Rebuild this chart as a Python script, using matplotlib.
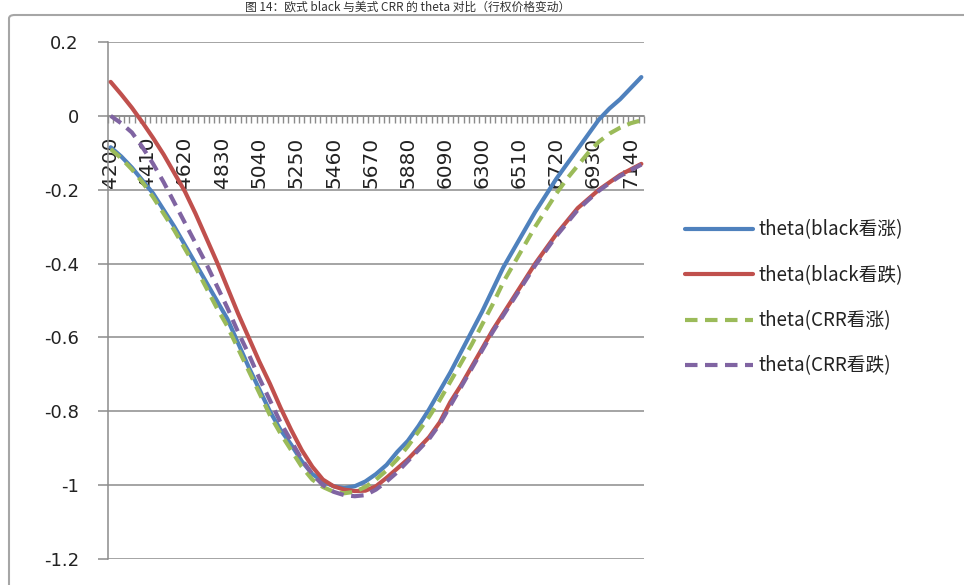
import matplotlib
matplotlib.use('Agg')
import matplotlib.pyplot as plt
from matplotlib.patches import FancyBboxPatch

plt.rcParams['font.family'] = ['DejaVu Sans', 'Noto Sans CJK SC']

# ---- data ----
strikes = list(range(4200, 7201, 30))          # category axis (strike prices)
label_strikes = [4200, 4410, 4620, 4830, 5040, 5250, 5460, 5670,
                 5880, 6090, 6300, 6510, 6720, 6930, 7140]
series_x = strikes[::2]                          # series sampled every other strike

theta_black_call = [-0.085, -0.11, -0.14, -0.175, -0.21, -0.255, -0.30, -0.35, -0.40, -0.45,
                    -0.50, -0.55, -0.615, -0.68, -0.74, -0.80, -0.85, -0.89, -0.935, -0.97,
                    -0.99, -1.003, -1.008, -1.003, -0.99, -0.97, -0.945, -0.91, -0.88, -0.84,
                    -0.795, -0.745, -0.695, -0.64, -0.585, -0.53, -0.47, -0.41, -0.36, -0.31,
                    -0.26, -0.215, -0.17, -0.13, -0.09, -0.05, -0.01, 0.02, 0.045, 0.075, 0.105]
theta_black_put = [0.092, 0.058, 0.022, -0.018, -0.06, -0.105, -0.155, -0.205, -0.265, -0.33,
                   -0.395, -0.465, -0.535, -0.60, -0.665, -0.725, -0.79, -0.85, -0.905, -0.95,
                   -0.985, -1.003, -1.012, -1.016, -1.015, -1.003, -0.98, -0.955, -0.93, -0.90,
                   -0.87, -0.83, -0.775, -0.73, -0.68, -0.63, -0.58, -0.535, -0.49, -0.445,
                   -0.40, -0.36, -0.32, -0.285, -0.25, -0.225, -0.20, -0.18, -0.16, -0.145, -0.13]
theta_crr_call = [-0.09, -0.115, -0.145, -0.18, -0.22, -0.265, -0.31, -0.36, -0.41, -0.465,
                  -0.52, -0.57, -0.63, -0.69, -0.75, -0.81, -0.86, -0.905, -0.95, -0.985,
                  -1.005, -1.018, -1.022, -1.018, -1.005, -0.985, -0.96, -0.93, -0.895, -0.855,
                  -0.815, -0.77, -0.72, -0.67, -0.62, -0.565, -0.51, -0.45, -0.40, -0.35,
                  -0.30, -0.255, -0.21, -0.17, -0.135, -0.10, -0.07, -0.048, -0.032, -0.02, -0.012]
theta_crr_put = [0.0, -0.02, -0.045, -0.085, -0.13, -0.18, -0.235, -0.29, -0.345, -0.40,
                 -0.46, -0.52, -0.585, -0.645, -0.71, -0.77, -0.83, -0.88, -0.93, -0.97,
                 -1.0, -1.018, -1.027, -1.03, -1.027, -1.012, -0.99, -0.965, -0.935, -0.905,
                 -0.875, -0.835, -0.785, -0.735, -0.685, -0.635, -0.585, -0.54, -0.495, -0.45,
                 -0.405, -0.365, -0.325, -0.29, -0.255, -0.228, -0.203, -0.182, -0.163, -0.147, -0.132]

series_names = ['theta(black看涨)', 'theta(black看跌)', 'theta(CRR看涨)', 'theta(CRR看跌)']
y_ticks = [0.2, 0, -0.2, -0.4, -0.6, -0.8, -1, -1.2]
y_tick_labels = ['0.2', '0', '-0.2', '-0.4', '-0.6', '-0.8', '-1', '-1.2']
title = '图 14：欧式 black 与美式 CRR 的 theta 对比（行权价格变动）'

# ---- figure ----
W, H = 964, 585
fig = plt.figure(figsize=(W / 100, H / 100), dpi=100)
fig.patch.set_facecolor('white')

# outer chart frame
frame = FancyBboxPatch((9 / W, -0.1), 1.2, 1.1 - 15 / H,
                       boxstyle='round,pad=0,rounding_size=0.006',
                       transform=fig.transFigure, fill=False,
                       edgecolor='#a6a6a6', linewidth=1.5, zorder=0)
fig.patches.append(frame)

fig.text(408 / W, 1 - 11 / H, title, fontsize=8.5, color='#333333',
         family=['Noto Sans CJK SC', 'DejaVu Sans'], ha='center', va='baseline')

ax = fig.add_axes([108 / W, 1 - 559 / H, (644 - 108) / W, (559 - 42) / H])
ax.set_facecolor('white')

grid_c = '#8c8c8c'
ax.spines['top'].set_visible(False)
ax.spines['right'].set_visible(False)
ax.spines['bottom'].set_position(('data', 0))
ax.spines['bottom'].set_color(grid_c)
ax.spines['bottom'].set_linewidth(1.1)
ax.spines['left'].set_color(grid_c)
ax.spines['left'].set_linewidth(1.1)

step = strikes[1] - strikes[0]
ax.set_xlim(strikes[0] - step / 2, strikes[-1] + step / 2)
ax.set_ylim(-1.2, 0.2)

ax.set_yticks(y_ticks)
ax.set_yticklabels(y_tick_labels, fontsize=13, color='#222222')
ax.yaxis.grid(True, color=grid_c, linewidth=1.1, zorder=0)
ax.set_axisbelow(True)
ax.tick_params(axis='y', direction='out', length=7, width=1.1, color=grid_c, pad=14)

ax.set_xticks(label_strikes)
ax.set_xticklabels([str(s) for s in label_strikes], fontsize=14.5, color='#222222')
ax.set_xticks([s - step / 2 for s in strikes] + [strikes[-1] + step / 2], minor=True)
ax.tick_params(axis='x', which='major', length=0, pad=15, labelrotation=90)
ax.tick_params(axis='x', which='minor', direction='out', length=5, width=1.0, color=grid_c)
for lab in ax.get_xticklabels():
    lab.set_verticalalignment('top')
    lab.set_horizontalalignment('center')

colors = ['#4F81BD', '#C0504D', '#9BBB59', '#8064A2']
data = [theta_black_call, theta_black_put, theta_crr_call, theta_crr_put]
styles = ['-', '-', '--', '--']
for name, vals, c, ls in zip(series_names, data, colors, styles):
    line, = ax.plot(series_x, vals, color=c, linewidth=3, linestyle=ls,
                    solid_capstyle='round', label=name, zorder=3)
    if ls == '--':
        line.set_dashes([3, 1.8])

leg = fig.legend(loc='center left', bbox_to_anchor=(685 / W, 1 - 298 / H),
                 frameon=False, handlelength=3.6, handletextpad=0.3,
                 labelspacing=1.3, borderpad=0, borderaxespad=0,
                 prop={'family': ['Noto Sans CJK SC', 'DejaVu Sans'], 'size': 13.5})
for t in leg.get_texts():
    t.set_color('#222222')

fig.savefig('out.png', dpi=100, facecolor='white')
